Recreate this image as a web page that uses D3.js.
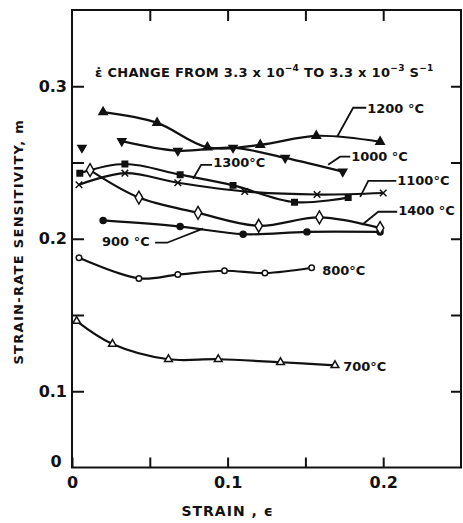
<!DOCTYPE html>
<html>
<head>
<meta charset="utf-8">
<script src="https://cdn.jsdelivr.net/npm/d3@7"></script>
<style>
  body { margin: 0; background: #fff; }
  svg text { font-family: "DejaVu Sans", sans-serif; font-weight: bold; fill: #111; }
</style>
</head>
<body>
<div id="chart"></div>
<script>
// values: [strain, m]
const t700  = [[0.003, 0.146], [0.026, 0.131], [0.062, 0.121], [0.094, 0.121], [0.134, 0.119], [0.169, 0.117]];
const t800  = [[0.0045, 0.1875], [0.043, 0.174], [0.068, 0.1765], [0.098, 0.179], [0.124, 0.1775], [0.154, 0.181]];
const t900  = [[0.020, 0.212], [0.0695, 0.208], [0.110, 0.203], [0.151, 0.2045], [0.198, 0.2045]];
const t1000 = [[0.032, 0.264], [0.068, 0.2577], [0.1035, 0.2597], [0.137, 0.253], [0.174, 0.244]];
const t1100 = [[0.0045, 0.2354], [0.034, 0.243], [0.068, 0.2367], [0.111, 0.231], [0.1575, 0.229], [0.200, 0.230]];
const t1200 = [[0.020, 0.283], [0.0547, 0.276], [0.087, 0.260], [0.121, 0.2616], [0.157, 0.2675], [0.198, 0.2636]];
const t1300 = [[0.005, 0.243], [0.034, 0.249], [0.0695, 0.242], [0.1035, 0.235], [0.143, 0.224], [0.1775, 0.227]];
const t1400 = [[0.0116, 0.245], [0.043, 0.227], [0.081, 0.217], [0.120, 0.2085], [0.159, 0.214], [0.198, 0.207]];
const stray1000 = [[0.0064, 0.2597]];

const tempLabels = ['700\u00b0C', '800\u00b0C', '900 \u00b0C', '1000 \u00b0C', '1100\u00b0C', '1200 \u00b0C', '1300\u00b0C', '1400 \u00b0C'];
const strainTicks = [0.05, 0.1, 0.15, 0.2];
const strainLabels = [0, 0.1, 0.2];
const mTicks = [0.1, 0.15, 0.2, 0.25, 0.3];
const mLabels = [0.1, 0.2, 0.3];

const W = 463, H = 523;
const x = d3.scaleLinear().domain([0, 0.25]).range([72, 461]);
// the m axis is broken: the bottom of the frame is labelled 0
const y = d3.scaleLinear().domain([0.05, 0.35]).range([467.5, 10]);

const svg = d3.select('#chart').append('svg')
  .attr('width', W).attr('height', H);

const series = [
  {data: t700,  sym: d3.symbolTriangle, size: 26, fill: false, rot: 0},
  {data: t800,  sym: d3.symbolCircle,   size: 24, fill: false, rot: 0},
  {data: t900,  sym: d3.symbolCircle,   size: 28, fill: true,  rot: 0},
  {data: t1000, sym: d3.symbolTriangle, size: 28, fill: true,  rot: 180},
  {data: t1100, sym: d3.symbolX,        size: 30, fill: false, rot: 0, stroke: true},
  {data: t1200, sym: d3.symbolTriangle, size: 30, fill: true,  rot: 0},
  {data: t1300, sym: d3.symbolSquare,   size: 30, fill: true,  rot: 0},
  {data: t1400, sym: d3.symbolDiamond,  size: 48, fill: false, rot: 0}
];

// label placements in data units: text anchor, then leader polyline
const labelPos = [
  {at: [0.1743, 0.1154], leader: null},
  {at: [0.1608, 0.1784], leader: null},
  {at: [0.0193, 0.1974], leader: [[0.0534, 0.1974], [0.0611, 0.1974], [0.0842, 0.2066]]},
  {at: [0.1794, 0.2531], leader: [[0.1646, 0.2485], [0.1723, 0.2538], [0.1788, 0.2538]]},
  {at: [0.2090, 0.2374], leader: [[0.1852, 0.2275], [0.1904, 0.2380], [0.2084, 0.2380]]},
  {at: [0.1897, 0.2846], leader: [[0.1704, 0.2669], [0.1807, 0.2859], [0.1891, 0.2859]]},
  {at: [0.0907, 0.2492], leader: [[0.0778, 0.2393], [0.0830, 0.2485], [0.0900, 0.2485]]},
  {at: [0.2096, 0.2177], leader: [[0.1865, 0.2092], [0.1968, 0.2177], [0.2090, 0.2177]]}
];

// frame
svg.append('rect')
  .attr('x', x(0)).attr('y', y(0.35))
  .attr('width', x(0.25) - x(0)).attr('height', y(0.05) - y(0.35))
  .attr('fill', 'none').attr('stroke', '#111').attr('stroke-width', 2);

// axes with inward ticks
svg.append('g')
  .attr('transform', 'translate(0,' + y(0.05) + ')')
  .call(d3.axisBottom(x).tickValues([0].concat(strainTicks)).tickSize(-10).tickPadding(9)
    .tickFormat(d => strainLabels.includes(d) ? (d === 0 ? '0' : d3.format('.1f')(d)) : ''))
  .call(g => g.select('.domain').remove())
  .call(g => g.selectAll('line').attr('stroke', '#111').attr('stroke-width', 2))
  .call(g => g.selectAll('text').style('font-size', '16px').attr('fill', '#111'));

svg.append('g')
  .attr('transform', 'translate(0,' + y(0.35) + ')')
  .call(d3.axisTop(x).tickValues(strainTicks).tickSize(-11).tickFormat(''))
  .call(g => g.select('.domain').remove())
  .call(g => g.selectAll('line').attr('stroke', '#111').attr('stroke-width', 2));

svg.append('g')
  .attr('transform', 'translate(' + x(0) + ',0)')
  .call(d3.axisLeft(y).tickValues(mTicks).tickSize(-12).tickPadding(5)
    .tickFormat(d => mLabels.includes(d) ? d3.format('.1f')(d) : ''))
  .call(g => g.select('.domain').remove())
  .call(g => g.selectAll('line').attr('stroke', '#111').attr('stroke-width', 2))
  .call(g => g.selectAll('text').style('font-size', '16px').attr('fill', '#111'));

svg.append('g')
  .attr('transform', 'translate(' + x(0.25) + ',0)')
  .call(d3.axisRight(y).tickValues(mTicks).tickSize(-10).tickFormat(''))
  .call(g => g.select('.domain').remove())
  .call(g => g.selectAll('line').attr('stroke', '#111').attr('stroke-width', 2));

// broken-axis zero
svg.append('text')
  .attr('x', x(0) - 16).attr('y', y(0.05) - 5)
  .attr('text-anchor', 'middle').attr('dominant-baseline', 'middle')
  .style('font-size', '16px').text('0');

// axis titles
svg.append('text')
  .attr('transform', 'translate(23,' + (y(0.2) + 3) + ') rotate(-90)')
  .attr('text-anchor', 'middle')
  .style('font-size', '13px').style('letter-spacing', '1.3px')
  .text('STRAIN-RATE SENSITIVITY, m');

svg.append('text')
  .attr('x', x(0.1)).attr('y', 516)
  .attr('text-anchor', 'middle')
  .style('font-size', '14px').style('letter-spacing', '1px')
  .text('STRAIN , \u03f5');

// curves
const line = d3.line()
  .x(d => x(d[0])).y(d => y(d[1]))
  .curve(d3.curveCatmullRom.alpha(0.5));

series.forEach(s => {
  svg.append('path')
    .datum(s.data)
    .attr('d', line)
    .attr('fill', 'none').attr('stroke', '#111').attr('stroke-width', 2.2);
});

// markers
series.forEach(s => {
  svg.append('g').selectAll('path')
    .data(s.data)
    .enter().append('path')
    .attr('transform', d => 'translate(' + x(d[0]) + ',' + y(d[1]) + ') rotate(' + s.rot + ')')
    .attr('d', d3.symbol().type(s.sym).size(s.size))
    .attr('fill', s.fill ? '#111' : (s.stroke ? 'none' : '#fff'))
    .attr('stroke', '#111').attr('stroke-width', 1.5);
});

svg.append('g').selectAll('path')
  .data(stray1000)
  .enter().append('path')
  .attr('transform', d => 'translate(' + x(d[0]) + ',' + y(d[1]) + ') rotate(180)')
  .attr('d', d3.symbol().type(d3.symbolTriangle).size(28))
  .attr('fill', '#111').attr('stroke', '#111').attr('stroke-width', 1.5);

// temperature labels with leaders
const leader = d3.line().x(d => x(d[0])).y(d => y(d[1]));
labelPos.forEach((p, i) => {
  if (p.leader) {
    svg.append('path').attr('d', leader(p.leader))
      .attr('fill', 'none').attr('stroke', '#111').attr('stroke-width', 1.8);
  }
  svg.append('text')
    .attr('x', x(p.at[0])).attr('y', y(p.at[1]))
    .attr('dominant-baseline', 'middle')
    .style('font-size', '13px')
    .text(tempLabels[i]);
});

// rate-change note
const note = svg.append('text')
  .attr('x', x(0.0148)).attr('y', y(0.3095) + 5)
  .style('font-size', '13px').style('letter-spacing', '0.3px');
note.append('tspan').text('\u03b5\u0307 CHANGE FROM 3.3 x 10');
note.append('tspan').attr('dy', -6).style('font-size', '9px').text('\u22124');
note.append('tspan').attr('dy', 6).text('  TO 3.3 x 10');
note.append('tspan').attr('dy', -6).style('font-size', '9px').text('\u22123');
note.append('tspan').attr('dy', 6).text(' S');
note.append('tspan').attr('dy', -6).style('font-size', '9px').text('\u22121');
</script>
</body>
</html>
